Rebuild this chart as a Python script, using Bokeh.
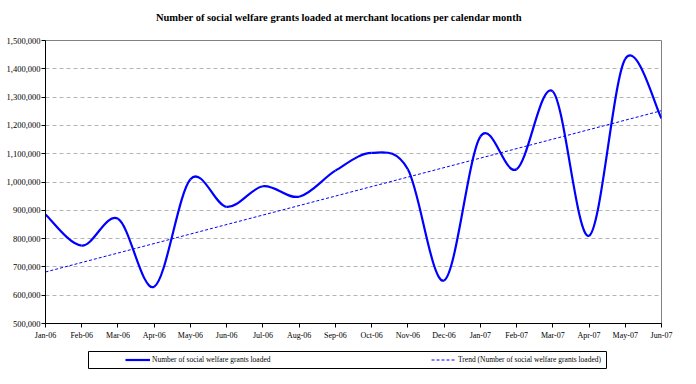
import numpy as np
from bokeh.plotting import figure
from bokeh.layouts import column
from bokeh.models import (FixedTicker, NumeralTickFormatter, Legend, LegendItem,
                          Range1d, ColumnDataSource, Label)
from bokeh.embed import file_html
from bokeh.resources import INLINE

# ---------------- data ----------------
months = ["Jan-06", "Feb-06", "Mar-06", "Apr-06", "May-06", "Jun-06", "Jul-06",
          "Aug-06", "Sep-06", "Oct-06", "Nov-06", "Dec-06", "Jan-07", "Feb-07",
          "Mar-07", "Apr-07", "May-07", "Jun-07"]
grants = [885000, 775000, 870000, 630000, 1010000, 912000, 985000, 948000,
          1040000, 1103000, 1045000, 652000, 1160000, 1045000, 1320000,
          810000, 1435000, 1225000]
trend_months = ["Jan-06", "Jun-07"]
trend_values = [682000, 1252000]
y_ticks = [500000, 600000, 700000, 800000, 900000, 1000000, 1100000,
           1200000, 1300000, 1400000, 1500000]

title_text = "Number of social welfare grants loaded at merchant locations per calendar month"
series_label = "Number of social welfare grants loaded"
trend_label = "Trend (Number of social welfare grants loaded)"

SERIF = "Liberation Serif"
BLUE = "#0000FF"

# ---------------- smoothed curve (Excel-like bezier) ----------------
n = len(grants)
xs = np.arange(n, dtype=float)
ys = np.array(grants, dtype=float)
x0, y0, x1, y1, cx0, cy0, cx1, cy1 = [], [], [], [], [], [], [], []
for i in range(n - 1):
    ip = max(i - 1, 0)
    inn = min(i + 2, n - 1)
    x0.append(xs[i]); y0.append(ys[i])
    x1.append(xs[i + 1]); y1.append(ys[i + 1])
    cx0.append(xs[i] + (xs[i + 1] - xs[ip]) / 6.0)
    cy0.append(ys[i] + (ys[i + 1] - ys[ip]) / 6.0)
    cx1.append(xs[i + 1] - (xs[inn] - xs[i]) / 6.0)
    cy1.append(ys[i + 1] - (ys[inn] - ys[i]) / 6.0)
bez_src = ColumnDataSource(dict(x0=x0, y0=y0, x1=x1, y1=y1,
                                cx0=cx0, cy0=cy0, cx1=cx1, cy1=cy1))

trend_x = [months.index(m) for m in trend_months]

# ---------------- title strip ----------------
tf = figure(width=696, height=28, output_backend="svg", toolbar_location=None,
            x_range=Range1d(0, 696), y_range=Range1d(28, 0),
            min_border_left=0, min_border_right=0, min_border_top=0,
            min_border_bottom=0)
tf.frame_align = False
tf.axis.visible = False
tf.grid.visible = False
tf.outline_line_color = None
tf.background_fill_color = "white"
tf.border_fill_color = "white"
tf.add_layout(Label(x=338.5, y=17, text=title_text, text_font=SERIF,
                    text_font_size="10.5px", text_font_style="bold",
                    text_color="black", text_align="center",
                    text_baseline="middle"))

# ---------------- main figure ----------------
p = figure(frame_width=616, frame_height=283, output_backend="svg",
           toolbar_location=None,
           x_range=Range1d(0, n - 1), y_range=Range1d(500000, 1500000),
           min_border_left=45, min_border_right=35, min_border_top=12,
           min_border_bottom=19)
p.frame_align = False
p.background_fill_color = "white"
p.border_fill_color = "white"
p.outline_line_color = "#808080"
p.outline_line_width = 1

p.bezier(x0="x0", y0="y0", x1="x1", y1="y1", cx0="cx0", cy0="cy0",
         cx1="cx1", cy1="cy1", source=bez_src, line_color=BLUE,
         line_width=2.2)
p.line(trend_x, trend_values, line_color=BLUE, line_width=1, line_dash="3 2")

# axes
p.yaxis.ticker = FixedTicker(ticks=y_ticks)
p.yaxis.formatter = NumeralTickFormatter(format="0,0")
p.xaxis.ticker = FixedTicker(ticks=list(range(n)))
p.xaxis.major_label_overrides = {i: m for i, m in enumerate(months)}
for ax in (p.xaxis[0], p.yaxis[0]):
    ax.axis_line_color = "black"
    ax.axis_line_width = 1
    ax.major_tick_line_color = "black"
    ax.major_tick_out = 4
    ax.major_tick_in = 0
    ax.minor_tick_line_color = None
    ax.major_label_text_font = SERIF
    ax.major_label_text_color = "black"
p.yaxis.major_label_text_font_size = "8.5px"
p.xaxis.major_label_text_font_size = "8px"
p.yaxis.major_label_standoff = 1
p.xaxis.major_label_standoff = 3

p.xgrid.visible = False
p.ygrid.ticker = FixedTicker(ticks=y_ticks[1:-1])
p.ygrid.grid_line_color = "#B4B4B4"
p.ygrid.grid_line_dash = "4 3"
p.ygrid.grid_line_width = 1

# ---------------- legend strip (its frame is the legend box) ----------------
lg = figure(frame_width=518, frame_height=17, output_backend="svg",
            toolbar_location=None, x_range=Range1d(0, 1), y_range=Range1d(0, 1),
            min_border_left=88, min_border_right=90, min_border_top=9,
            min_border_bottom=16)
lg.frame_align = False
lg.axis.visible = False
lg.grid.visible = False
lg.outline_line_color = "black"
lg.outline_line_width = 1
lg.background_fill_color = "white"
lg.border_fill_color = "white"
# proxies sit outside the visible range; they only supply the legend glyphs
proxy1 = lg.line([-5, -4], [-5, -4], line_color=BLUE, line_width=2.2)
proxy2 = lg.line([-5, -4], [-5, -4], line_color=BLUE, line_width=1,
                 line_dash="3 2")
legend = Legend(items=[LegendItem(label=series_label, renderers=[proxy1]),
                       LegendItem(label=trend_label, renderers=[proxy2])],
                orientation="horizontal", location=(37, 0),
                padding=0, margin=0, spacing=0, label_width=279,
                glyph_width=25, glyph_height=17, label_height=17,
                label_standoff=2, label_text_font=SERIF,
                label_text_font_size="7.5px", label_text_color="black",
                border_line_color=None, background_fill_alpha=0)
lg.add_layout(legend, "center")

layout = column(tf, p, lg, spacing=0)
open("out.html", "w").write(file_html(layout, INLINE))
